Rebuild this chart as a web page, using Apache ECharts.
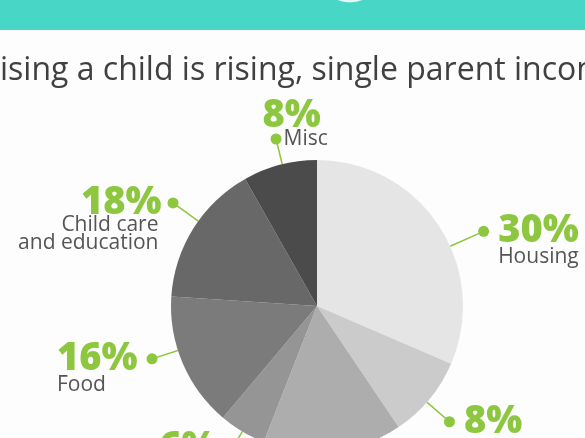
<!DOCTYPE html>
<html><head><meta charset="utf-8">
<script src="https://cdn.jsdelivr.net/npm/echarts@6/dist/echarts.min.js"></script>
<style>html,body{margin:0;padding:0;background:#fdfdfd}#c{width:585px;height:438px}</style>
</head><body><div id="c"></div>
<script>
// ---- data ----
const categories = ['Housing', 'Health care', 'Transportation', 'Clothing', 'Food', 'Child care\nand education', 'Misc'];
const shares = [31.5, 9.1, 15.4, 5.2, 14.9, 15.8, 8.2];      // slice sizes as drawn
const pctLabels = ['30%', '8%', '14%', '6%', '16%', '18%', '8%']; // printed percentages
const titleText = 'ising a child is rising, single parent income';

// ---- styles / layout ----
const GREEN = '#8dc63f';
const sliceColors = ['#e5e5e5', '#cbcbcb', '#adadad', '#959595', '#7b7b7b', '#686868', '#4b4b4b'];
const PIE_CENTER = [317, 306];
const PIE_R = 146;
// label arrangement per slice: line lengths, small nudge of the label, text block shape
const labelSetup = [
  { len: 8, len2: 38, dx: 0, dy: 10, kind: 'right' },
  { len: 26, len2: 0, dx: 0, dy: 6, kind: 'right' },
  { len: 20, len2: 0, dx: 0, dy: 0, kind: 'right' },
  { len: 20, len2: 0, dx: 0, dy: 0, kind: 'left' },
  { len: 4, len2: 27, dx: 0, dy: -6, kind: 'leftUnder' },
  { len: 28, len2: 0, dx: 3.4, dy: -10.6, kind: 'leftTight' },
  { len: 26.7, len2: 0, dx: 3, dy: 0, kind: 'top' }
];

const DOT = 11;
const IND2 = 8;
function labelDist(i) { return labelSetup[i].kind === 'top' ? IND2 + DOT / 2 : -DOT / 2; }
function labelText(i) {
  const s = labelSetup[i], p = pctLabels[i], names = categories[i].split('\n');
  const n = names.length;
  if (s.kind === 'right') {
    return '{sp' + n + '|}\n{dot|}{gap|}{pct|' + p + '}\n' + names.map(t => '{ind|}{name|' + t + '}').join('\n');
  }
  if (s.kind === 'left') {
    return '{sp' + n + '|}\n{pct|' + p + '}{gap|}{dot|}\n' + names.map(t => '{name|' + t + '}{ind|}').join('\n');
  }
  if (s.kind === 'leftUnder') {
    return '{sp' + n + '|}\n{pct|' + p + '}{gap|}{dot|}\n' + names.map(t => '{nameL|' + t + '}').join('\n');
  }
  if (s.kind === 'leftTight') {
    return '{spT' + n + '|}\n{pctT|' + p + '}{gapT|}{dot|}\n' + names.map(t => '{nameT|' + t + '}{ind|}').join('\n');
  }
  return '{pctT|' + p + '}\n{ind2|}{dot|}{gapS|}{name|' + names.join(' ') + '}\n{spP|}';
}

const nameStyle = { fontFamily: 'Open Sans', fontSize: 21, color: '#555', lineHeight: 20 };
const pctStyle = { fontFamily: 'Open Sans', fontWeight: 800, fontSize: 38, color: GREEN, lineHeight: 32 };
const rich = {
  dot: { width: DOT, height: DOT, borderRadius: DOT / 2, backgroundColor: GREEN },
  gap: { width: 9 }, gapT: { width: 6 }, gapS: { width: 2 },
  ind: { width: DOT + 9 }, ind2: { width: IND2 },
  pct: pctStyle,
  pctT: Object.assign({}, pctStyle, { lineHeight: 26 }),
  name: nameStyle,
  nameL: Object.assign({}, nameStyle, { align: 'left' }),
  nameT: Object.assign({}, nameStyle, { lineHeight: 18 }),
  sp1: { height: 20, lineHeight: 20 }, sp2: { height: 40, lineHeight: 40 },
  spT1: { height: 18, lineHeight: 18 }, spT2: { height: 36, lineHeight: 36 },
  spP: { height: 26, lineHeight: 26 }
};

const seriesData = categories.map((c, i) => ({
  name: c,
  value: shares[i],
  itemStyle: { color: sliceColors[i] },
  label: { formatter: () => labelText(i), distanceToLabelLine: labelDist(i) },
  labelLine: { length: labelSetup[i].len, length2: labelSetup[i].len2 }
}));

const chart = echarts.init(document.getElementById('c'), null, { renderer: 'canvas' });
chart.setOption({
  animation: false,
  backgroundColor: '#fdfdfd',
  graphic: [
    { type: 'rect', shape: { x: 0, y: 0, width: 585, height: 30 }, style: { fill: '#48d6c6' }, z: 1 },
    { type: 'circle', shape: { cx: 350, cy: -30, r: 32.6 }, style: { fill: '#ffffff', opacity: 0.85 }, z: 2 },
    { type: 'text', x: 0, y: 71, z: 3, style: { text: titleText, fontFamily: 'Open Sans', fontSize: 32, fill: '#404040', verticalAlign: 'middle', align: 'left' } }
  ],
  series: [{
    type: 'pie',
    center: PIE_CENTER,
    radius: PIE_R,
    startAngle: 90,
    clockwise: true,
    avoidLabelOverlap: false,
    silent: true,
    label: { show: true, position: 'outside', rich: rich, color: '#555' },
    labelLine: { show: true, smooth: false, lineStyle: { color: GREEN, width: 1.5 } },
    labelLayout: function (params) {
      const i = params.dataIndex, s = labelSetup[i];
      const pts = params.labelLinePoints;
      if (!pts || !pts.length) return {};
      const end = pts[pts.length - 1];
      const ex = end[0] + s.dx, ey = end[1] + s.dy;
      const side = pts[0][0] < PIE_CENTER[0] ? -1 : 1;
      // line runs from the dot straight toward the pie centre, stopping at the rim
      const vx = ex - PIE_CENTER[0], vy = ey - PIE_CENTER[1], d = Math.hypot(vx, vy);
      const start = [PIE_CENTER[0] + PIE_R * vx / d, PIE_CENTER[1] + PIE_R * vy / d];
      const out = {
        x: ex + side * labelDist(i),
        y: ey,
        labelLinePoints: [start, [ex, ey]]
      };
      if (s.kind === 'top') out.align = 'left';
      return out;
    },
    data: seriesData
  }]
});
</script>
</body></html>
